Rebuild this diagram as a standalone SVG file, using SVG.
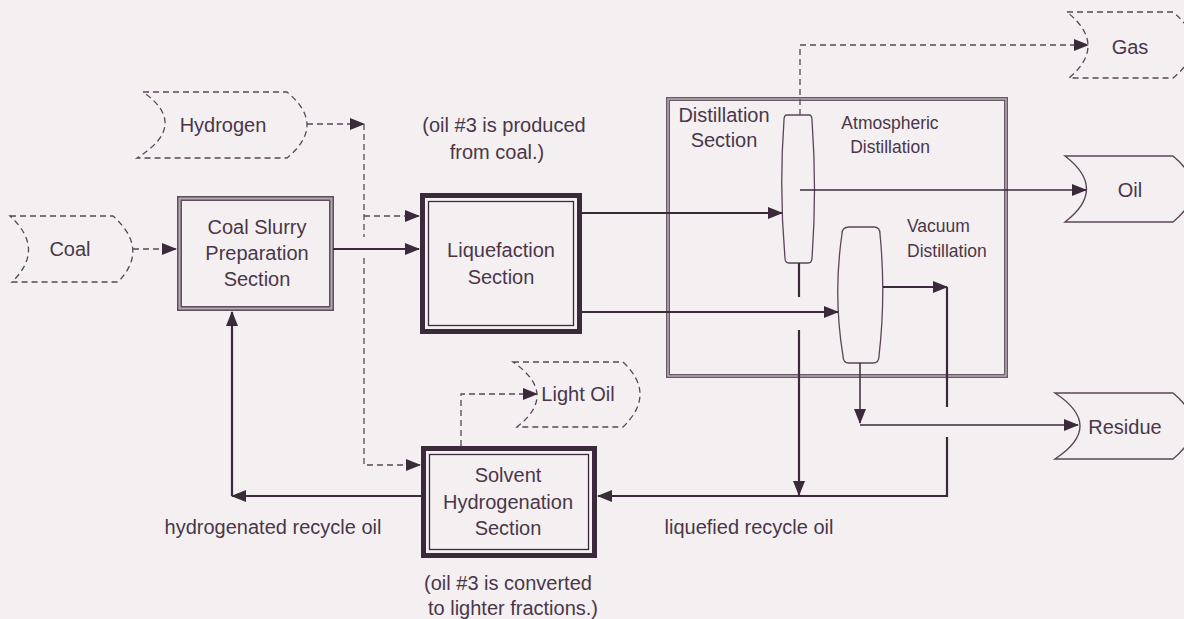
<svg xmlns="http://www.w3.org/2000/svg" width="1184" height="619" viewBox="0 0 1184 619">
<defs>
<style>
text{font-family:"Liberation Sans",Arial,sans-serif;fill:#4b3649;font-size:20px}
.m{text-anchor:middle}
.sm{font-size:17.5px}
.dash{fill:none;stroke:#5a4558;stroke-width:1.3;stroke-dasharray:6 4}
.sol{fill:none;stroke:#3b2a39;stroke-width:2.2}
.thin{fill:none;stroke:#3b2a39;stroke-width:1.5}
.store{fill:none;stroke:#5a4558;stroke-width:1.4}
.col{fill:none;stroke:#5a4558;stroke-width:1.3}
</style>
<marker id="ah" markerUnits="userSpaceOnUse" markerWidth="15" markerHeight="12" refX="14" refY="6" orient="auto"><path d="M0,0 L15,6 L0,12 Z" fill="#3b2a39"/></marker>
</defs>
<rect width="1184" height="619" fill="#f4f0f2"/>

<g id="coal"><path class="dash" d="M10,216 L113,216 Q150,249 118,282 L12,282 Q46,249 10,216 Z"/><text class="m" x="70" y="256">Coal</text></g>
<g id="hydrogen"><path class="dash" d="M143,92 L287,92 Q327,125 287,158 L137,158 Q190,125 143,92 Z"/><text class="m" x="223" y="132">Hydrogen</text></g>
<g id="gas"><path class="dash" d="M1067,12 L1173,12 Q1213,45 1173,78 L1069,78 Q1108,45 1067,12 Z"/><text class="m" x="1130" y="54">Gas</text></g>
<g id="oil"><path class="store" d="M1065,156 L1173,156 Q1213,189 1173,222 L1065,222 Q1108,189 1065,156 Z"/><text class="m" x="1130" y="197">Oil</text></g>
<g id="residue"><path class="store" d="M1055,393 L1173,393 Q1213,426 1173,459 L1055,459 Q1105,426 1055,393 Z"/><text class="m" x="1125" y="434">Residue</text></g>
<g id="lightoil"><path class="dash" d="M513,362 L623,362 Q657,394 623,427 L517,427 Q559,394 513,362 Z"/><text class="m" x="578" y="401">Light Oil</text></g>

<g id="coalslurry">
<rect x="179.5" y="198.5" width="152" height="110" fill="none" stroke="#5e4d5b" stroke-width="5"/>
<rect x="179.5" y="198.5" width="152" height="110" fill="none" stroke="#b3a7b0" stroke-width="2"/>
<text class="m" x="257" y="234">Coal Slurry</text><text class="m" x="257" y="260">Preparation</text><text class="m" x="257" y="286">Section</text>
</g>
<g id="liquefaction">
<rect x="422.5" y="195.5" width="157" height="136" fill="none" stroke="#3b2a39" stroke-width="5"/>
<rect x="428.5" y="201.5" width="145" height="124" fill="none" stroke="#3b2a39" stroke-width="1.3"/>
<text class="m" x="501" y="257">Liquefaction</text><text class="m" x="501" y="284">Section</text>
<text class="m" x="504" y="132">(oil #3 is produced</text><text class="m" x="497" y="159">from coal.)</text>
</g>
<g id="solvent">
<rect x="423.5" y="448.5" width="171" height="107" fill="none" stroke="#3b2a39" stroke-width="5"/>
<rect x="429.5" y="454.5" width="159" height="95" fill="none" stroke="#3b2a39" stroke-width="1.3"/>
<text class="m" x="508" y="482">Solvent</text><text class="m" x="508" y="509">Hydrogenation</text><text class="m" x="508" y="535">Section</text>
<text class="m" x="508" y="590">(oil #3 is converted</text><text class="m" x="513" y="615">to lighter fractions.)</text>
</g>
<g id="distillation">
<rect x="668" y="99" width="338" height="277" fill="none" stroke="#6a5a67" stroke-width="4"/>
<rect x="668" y="99" width="338" height="277" fill="none" stroke="#c2b7bf" stroke-width="1.3"/>
<text class="m" x="724" y="122">Distillation</text><text class="m" x="724" y="147">Section</text>
</g>
<g id="atmospheric">
<path class="col" d="M787,115 L809,115 Q812,115 812,120 Q817,190 812,258 Q812,263 808,263 L789,263 Q785,263 785,258 Q779,190 784,120 Q784,115 787,115 Z"/>
<text class="m sm" x="890" y="129">Atmospheric</text><text class="m sm" x="890" y="153">Distillation</text>
</g>
<g id="vacuum">
<path class="col" d="M849,227 L874,227 Q880,227 880,234 Q886,295 879,356 Q879,363 873,363 L849,363 Q843,363 843,356 Q833,295 842,234 Q842,227 849,227 Z"/>
<text class="sm" x="907" y="232">Vacuum</text><text class="sm" x="907" y="257">Distillation</text>
</g>

<g id="connectors">
<path class="dash" d="M133,249 L176,249" marker-end="url(#ah)"/>
<path class="dash" d="M307,124 L364,124" marker-end="url(#ah)"/>
<path class="dash" d="M364,124 L364,237 M364,258 L364,465 L420,465" marker-end="url(#ah)"/>
<path class="dash" d="M364,216 L419,216" marker-end="url(#ah)"/>
<path class="sol" d="M333,249 L419,249" marker-end="url(#ah)"/>
<path class="sol" d="M582,213 L782,213" marker-end="url(#ah)"/>
<path class="sol" d="M582,312 L838,312" marker-end="url(#ah)"/>
<path class="dash" d="M800,115 L800,45 L1088,45" marker-end="url(#ah)"/>
<path class="thin" d="M800,190 L1086,190" marker-end="url(#ah)"/>
<path class="sol" d="M799,263 L799,297 M799,330 L799,495" marker-end="url(#ah)"/>
<path class="sol" d="M883,287 L947,287" marker-end="url(#ah)"/>
<path class="sol" d="M947,287 L947,407 M947,437 L947,496 L598,496" marker-end="url(#ah)"/>
<path class="thin" d="M860,363 L860,423" marker-end="url(#ah)"/>
<path class="thin" d="M860,425 L1078,425" marker-end="url(#ah)"/>
<path class="sol" d="M421,496 L232,496" marker-end="url(#ah)"/>
<path class="sol" d="M232,496 L232,312" marker-end="url(#ah)"/>
<path class="dash" d="M461,446 L461,394 L537,394" marker-end="url(#ah)"/>
</g>
<g id="labels">
<text class="m" x="273" y="534">hydrogenated recycle oil</text>
<text class="m" x="749" y="534">liquefied recycle oil</text>
</g>
</svg>
